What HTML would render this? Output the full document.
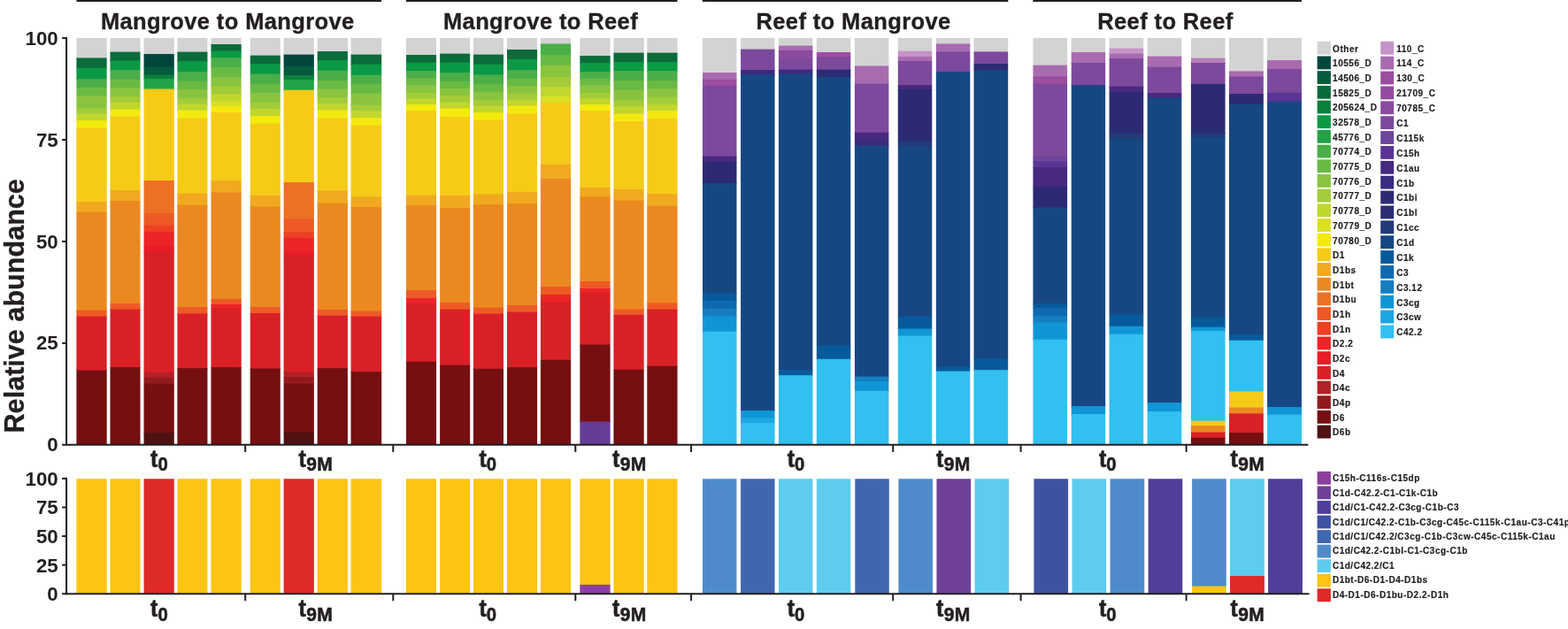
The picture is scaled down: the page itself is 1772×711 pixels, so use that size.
<!DOCTYPE html>
<html><head><meta charset="utf-8"><title>Relative abundance</title>
<style>
html,body{margin:0;padding:0;background:#fff;}
body{width:1772px;height:711px;overflow:hidden;}
svg{display:block;}
svg text{font-family:"Liberation Sans",Arial,Helvetica,sans-serif;font-weight:bold;fill:#231f20;}
</style></head><body>
<svg width="1772" height="711" viewBox="0 0 1772 711">
<rect x="0" y="0" width="1772" height="711" fill="#ffffff"/>
<rect x="86.41" y="42.90" width="34.26" height="23.55" fill="#d3d3d3"/>
<rect x="86.41" y="65.45" width="34.26" height="12.22" fill="#0b6b3a"/>
<rect x="86.41" y="76.67" width="34.26" height="13.62" fill="#0a9945"/>
<rect x="86.41" y="89.29" width="34.26" height="10.42" fill="#4aae49"/>
<rect x="86.41" y="98.70" width="34.26" height="10.42" fill="#69ba44"/>
<rect x="86.41" y="108.12" width="34.26" height="15.42" fill="#8ac43f"/>
<rect x="86.41" y="122.54" width="34.26" height="7.01" fill="#a3cc39"/>
<rect x="86.41" y="128.55" width="34.26" height="8.61" fill="#c1d72e"/>
<rect x="86.41" y="136.17" width="34.26" height="9.61" fill="#f4e90f"/>
<rect x="86.41" y="144.78" width="34.26" height="84.30" fill="#f5cb17"/>
<rect x="86.41" y="228.08" width="34.26" height="12.42" fill="#f0a920"/>
<rect x="86.41" y="239.50" width="34.26" height="112.15" fill="#eb8920"/>
<rect x="86.41" y="350.66" width="34.26" height="8.01" fill="#ee5a25"/>
<rect x="86.41" y="357.67" width="34.26" height="61.90" fill="#d92027"/>
<rect x="86.41" y="418.57" width="34.26" height="84.13" fill="#750f11"/>
<rect x="124.47" y="42.90" width="34.06" height="16.73" fill="#d3d3d3"/>
<rect x="124.47" y="58.63" width="34.06" height="10.82" fill="#0b6b3a"/>
<rect x="124.47" y="68.45" width="34.06" height="11.62" fill="#0a9945"/>
<rect x="124.47" y="79.07" width="34.06" height="11.62" fill="#4aae49"/>
<rect x="124.47" y="89.69" width="34.06" height="10.42" fill="#69ba44"/>
<rect x="124.47" y="99.10" width="34.06" height="11.02" fill="#8ac43f"/>
<rect x="124.47" y="109.12" width="34.06" height="7.61" fill="#a3cc39"/>
<rect x="124.47" y="115.73" width="34.06" height="9.01" fill="#c1d72e"/>
<rect x="124.47" y="123.74" width="34.06" height="9.01" fill="#f4e90f"/>
<rect x="124.47" y="131.76" width="34.06" height="84.30" fill="#f5cb17"/>
<rect x="124.47" y="215.06" width="34.06" height="13.02" fill="#f0a920"/>
<rect x="124.47" y="227.08" width="34.06" height="116.96" fill="#eb8920"/>
<rect x="124.47" y="343.04" width="34.06" height="7.61" fill="#ee5a25"/>
<rect x="124.47" y="349.65" width="34.06" height="66.51" fill="#d92027"/>
<rect x="124.47" y="415.16" width="34.06" height="87.54" fill="#750f11"/>
<rect x="162.54" y="42.90" width="34.26" height="19.14" fill="#d3d3d3"/>
<rect x="162.54" y="61.04" width="34.26" height="15.42" fill="#02453d"/>
<rect x="162.54" y="75.46" width="34.26" height="10.22" fill="#055a3c"/>
<rect x="162.54" y="84.68" width="34.26" height="5.41" fill="#0b7f3c"/>
<rect x="162.54" y="89.09" width="34.26" height="12.42" fill="#22a347"/>
<rect x="162.54" y="100.51" width="34.26" height="104.54" fill="#f5cb17"/>
<rect x="162.54" y="204.04" width="34.26" height="38.06" fill="#ee7024"/>
<rect x="162.54" y="241.11" width="34.26" height="14.62" fill="#ee5a25"/>
<rect x="162.54" y="254.73" width="34.26" height="8.41" fill="#ee4023"/>
<rect x="162.54" y="262.14" width="34.26" height="17.03" fill="#ec2427"/>
<rect x="162.54" y="278.17" width="34.26" height="7.01" fill="#e81c26"/>
<rect x="162.54" y="284.18" width="34.26" height="137.99" fill="#d92027"/>
<rect x="162.54" y="421.17" width="34.26" height="6.61" fill="#b32025"/>
<rect x="162.54" y="426.78" width="34.26" height="8.01" fill="#921a1d"/>
<rect x="162.54" y="433.80" width="34.26" height="56.60" fill="#750f11"/>
<rect x="162.54" y="489.40" width="34.26" height="13.30" fill="#4e1213"/>
<rect x="200.40" y="42.90" width="34.06" height="16.73" fill="#d3d3d3"/>
<rect x="200.40" y="58.63" width="34.06" height="11.42" fill="#0b6b3a"/>
<rect x="200.40" y="69.05" width="34.06" height="13.02" fill="#0a9945"/>
<rect x="200.40" y="81.07" width="34.06" height="11.62" fill="#4aae49"/>
<rect x="200.40" y="91.69" width="34.06" height="10.42" fill="#69ba44"/>
<rect x="200.40" y="101.11" width="34.06" height="11.02" fill="#8ac43f"/>
<rect x="200.40" y="111.12" width="34.06" height="7.61" fill="#a3cc39"/>
<rect x="200.40" y="117.73" width="34.06" height="8.01" fill="#c1d72e"/>
<rect x="200.40" y="124.75" width="34.06" height="9.81" fill="#f4e90f"/>
<rect x="200.40" y="133.56" width="34.06" height="86.11" fill="#f5cb17"/>
<rect x="200.40" y="218.67" width="34.06" height="14.02" fill="#f0a920"/>
<rect x="200.40" y="231.69" width="34.06" height="116.36" fill="#eb8920"/>
<rect x="200.40" y="347.05" width="34.06" height="8.41" fill="#ee5a25"/>
<rect x="200.40" y="354.46" width="34.06" height="62.70" fill="#d92027"/>
<rect x="200.40" y="416.17" width="34.06" height="86.53" fill="#750f11"/>
<rect x="238.46" y="42.90" width="34.26" height="8.12" fill="#d3d3d3"/>
<rect x="238.46" y="50.02" width="34.26" height="8.41" fill="#0b6b3a"/>
<rect x="238.46" y="57.43" width="34.26" height="8.61" fill="#0a9945"/>
<rect x="238.46" y="65.05" width="34.26" height="12.02" fill="#4aae49"/>
<rect x="238.46" y="76.06" width="34.26" height="12.02" fill="#69ba44"/>
<rect x="238.46" y="87.08" width="34.26" height="11.62" fill="#8ac43f"/>
<rect x="238.46" y="97.70" width="34.26" height="9.41" fill="#a3cc39"/>
<rect x="238.46" y="106.12" width="34.26" height="9.61" fill="#c1d72e"/>
<rect x="238.46" y="114.73" width="34.26" height="6.41" fill="#dbe024"/>
<rect x="238.46" y="120.14" width="34.26" height="8.01" fill="#f4e90f"/>
<rect x="238.46" y="127.15" width="34.26" height="77.89" fill="#f5cb17"/>
<rect x="238.46" y="204.04" width="34.26" height="14.42" fill="#f0a920"/>
<rect x="238.46" y="217.47" width="34.26" height="121.57" fill="#eb8920"/>
<rect x="238.46" y="338.03" width="34.26" height="7.01" fill="#ee5a25"/>
<rect x="238.46" y="344.04" width="34.26" height="5.41" fill="#ec2427"/>
<rect x="238.46" y="348.45" width="34.26" height="67.71" fill="#d92027"/>
<rect x="238.46" y="415.16" width="34.26" height="87.54" fill="#750f11"/>
<rect x="282.74" y="42.90" width="34.06" height="20.74" fill="#d3d3d3"/>
<rect x="282.74" y="62.64" width="34.06" height="10.42" fill="#0b6b3a"/>
<rect x="282.74" y="72.06" width="34.06" height="12.42" fill="#0a9945"/>
<rect x="282.74" y="83.48" width="34.06" height="12.22" fill="#4aae49"/>
<rect x="282.74" y="94.70" width="34.06" height="11.42" fill="#69ba44"/>
<rect x="282.74" y="105.11" width="34.06" height="11.62" fill="#8ac43f"/>
<rect x="282.74" y="115.73" width="34.06" height="8.41" fill="#a3cc39"/>
<rect x="282.74" y="123.14" width="34.06" height="9.01" fill="#c1d72e"/>
<rect x="282.74" y="131.16" width="34.06" height="9.61" fill="#f4e90f"/>
<rect x="282.74" y="139.77" width="34.06" height="82.30" fill="#f5cb17"/>
<rect x="282.74" y="221.07" width="34.06" height="13.42" fill="#f0a920"/>
<rect x="282.74" y="233.49" width="34.06" height="114.56" fill="#eb8920"/>
<rect x="282.74" y="347.05" width="34.06" height="8.01" fill="#ee5a25"/>
<rect x="282.74" y="354.06" width="34.06" height="63.51" fill="#d92027"/>
<rect x="282.74" y="416.57" width="34.06" height="86.13" fill="#750f11"/>
<rect x="320.60" y="42.90" width="34.26" height="19.74" fill="#d3d3d3"/>
<rect x="320.60" y="61.64" width="34.26" height="14.42" fill="#02453d"/>
<rect x="320.60" y="75.06" width="34.26" height="11.02" fill="#055a3c"/>
<rect x="320.60" y="85.08" width="34.26" height="6.01" fill="#0b7f3c"/>
<rect x="320.60" y="90.09" width="34.26" height="12.62" fill="#22a347"/>
<rect x="320.60" y="101.71" width="34.26" height="105.34" fill="#f5cb17"/>
<rect x="320.60" y="206.05" width="34.26" height="42.07" fill="#ee7024"/>
<rect x="320.60" y="247.12" width="34.26" height="16.03" fill="#ee5a25"/>
<rect x="320.60" y="262.14" width="34.26" height="8.01" fill="#ee4023"/>
<rect x="320.60" y="269.15" width="34.26" height="17.03" fill="#ec2427"/>
<rect x="320.60" y="285.18" width="34.26" height="5.41" fill="#e81c26"/>
<rect x="320.60" y="289.59" width="34.26" height="131.58" fill="#d92027"/>
<rect x="320.60" y="420.17" width="34.26" height="7.01" fill="#b32025"/>
<rect x="320.60" y="426.18" width="34.26" height="8.41" fill="#921a1d"/>
<rect x="320.60" y="433.60" width="34.26" height="56.10" fill="#750f11"/>
<rect x="320.60" y="488.70" width="34.26" height="14.00" fill="#4e1213"/>
<rect x="358.67" y="42.90" width="34.26" height="16.13" fill="#d3d3d3"/>
<rect x="358.67" y="58.03" width="34.26" height="11.02" fill="#0b6b3a"/>
<rect x="358.67" y="68.05" width="34.26" height="12.62" fill="#0a9945"/>
<rect x="358.67" y="79.67" width="34.26" height="12.42" fill="#4aae49"/>
<rect x="358.67" y="91.09" width="34.26" height="10.42" fill="#69ba44"/>
<rect x="358.67" y="100.51" width="34.26" height="10.62" fill="#8ac43f"/>
<rect x="358.67" y="110.12" width="34.26" height="8.01" fill="#a3cc39"/>
<rect x="358.67" y="117.13" width="34.26" height="8.41" fill="#c1d72e"/>
<rect x="358.67" y="124.55" width="34.26" height="10.02" fill="#f4e90f"/>
<rect x="358.67" y="133.56" width="34.26" height="82.90" fill="#f5cb17"/>
<rect x="358.67" y="215.46" width="34.26" height="15.22" fill="#f0a920"/>
<rect x="358.67" y="229.69" width="34.26" height="121.37" fill="#eb8920"/>
<rect x="358.67" y="350.05" width="34.26" height="7.61" fill="#ee5a25"/>
<rect x="358.67" y="356.67" width="34.26" height="60.50" fill="#d92027"/>
<rect x="358.67" y="416.17" width="34.26" height="86.53" fill="#750f11"/>
<rect x="396.53" y="42.90" width="34.66" height="19.74" fill="#d3d3d3"/>
<rect x="396.53" y="61.64" width="34.66" height="12.02" fill="#0b6b3a"/>
<rect x="396.53" y="72.66" width="34.66" height="13.02" fill="#0a9945"/>
<rect x="396.53" y="84.68" width="34.66" height="11.42" fill="#4aae49"/>
<rect x="396.53" y="95.10" width="34.66" height="11.62" fill="#69ba44"/>
<rect x="396.53" y="105.71" width="34.66" height="14.02" fill="#8ac43f"/>
<rect x="396.53" y="118.74" width="34.66" height="7.41" fill="#a3cc39"/>
<rect x="396.53" y="125.15" width="34.66" height="9.01" fill="#c1d72e"/>
<rect x="396.53" y="133.16" width="34.66" height="9.41" fill="#f4e90f"/>
<rect x="396.53" y="141.58" width="34.66" height="81.90" fill="#f5cb17"/>
<rect x="396.53" y="222.48" width="34.66" height="12.62" fill="#f0a920"/>
<rect x="396.53" y="234.09" width="34.66" height="118.56" fill="#eb8920"/>
<rect x="396.53" y="351.66" width="34.66" height="7.01" fill="#ee5a25"/>
<rect x="396.53" y="357.67" width="34.66" height="63.51" fill="#d92027"/>
<rect x="396.53" y="420.17" width="34.66" height="82.53" fill="#750f11"/>
<rect x="459.03" y="42.90" width="34.06" height="20.14" fill="#d3d3d3"/>
<rect x="459.03" y="62.04" width="34.06" height="9.61" fill="#0b6b3a"/>
<rect x="459.03" y="70.66" width="34.06" height="10.42" fill="#0a9945"/>
<rect x="459.03" y="80.07" width="34.06" height="9.01" fill="#4aae49"/>
<rect x="459.03" y="88.08" width="34.06" height="9.01" fill="#69ba44"/>
<rect x="459.03" y="96.10" width="34.06" height="10.02" fill="#8ac43f"/>
<rect x="459.03" y="105.11" width="34.06" height="7.61" fill="#a3cc39"/>
<rect x="459.03" y="111.72" width="34.06" height="7.41" fill="#c1d72e"/>
<rect x="459.03" y="118.14" width="34.06" height="8.01" fill="#f4e90f"/>
<rect x="459.03" y="125.15" width="34.06" height="96.52" fill="#f5cb17"/>
<rect x="459.03" y="220.67" width="34.06" height="12.42" fill="#f0a920"/>
<rect x="459.03" y="232.09" width="34.06" height="96.94" fill="#eb8920"/>
<rect x="459.03" y="328.03" width="34.06" height="10.02" fill="#ee5a25"/>
<rect x="459.03" y="337.05" width="34.06" height="7.01" fill="#ec2427"/>
<rect x="459.03" y="343.06" width="34.06" height="66.71" fill="#d92027"/>
<rect x="459.03" y="408.77" width="34.06" height="93.93" fill="#750f11"/>
<rect x="497.10" y="42.90" width="34.06" height="18.74" fill="#d3d3d3"/>
<rect x="497.10" y="60.64" width="34.06" height="11.02" fill="#0b6b3a"/>
<rect x="497.10" y="70.66" width="34.06" height="12.42" fill="#0a9945"/>
<rect x="497.10" y="82.07" width="34.06" height="10.62" fill="#4aae49"/>
<rect x="497.10" y="91.69" width="34.06" height="9.41" fill="#69ba44"/>
<rect x="497.10" y="100.10" width="34.06" height="9.01" fill="#8ac43f"/>
<rect x="497.10" y="108.12" width="34.06" height="8.61" fill="#a3cc39"/>
<rect x="497.10" y="115.73" width="34.06" height="7.81" fill="#c1d72e"/>
<rect x="497.10" y="122.54" width="34.06" height="10.62" fill="#f4e90f"/>
<rect x="497.10" y="132.16" width="34.06" height="89.91" fill="#f5cb17"/>
<rect x="497.10" y="221.07" width="34.06" height="15.02" fill="#f0a920"/>
<rect x="497.10" y="235.10" width="34.06" height="107.96" fill="#eb8920"/>
<rect x="497.10" y="342.05" width="34.06" height="8.61" fill="#ee5a25"/>
<rect x="497.10" y="349.67" width="34.06" height="64.11" fill="#d92027"/>
<rect x="497.10" y="412.77" width="34.06" height="89.93" fill="#750f11"/>
<rect x="534.96" y="42.90" width="34.06" height="19.74" fill="#d3d3d3"/>
<rect x="534.96" y="61.64" width="34.06" height="12.02" fill="#0b6b3a"/>
<rect x="534.96" y="72.66" width="34.06" height="12.82" fill="#0a9945"/>
<rect x="534.96" y="84.48" width="34.06" height="11.22" fill="#4aae49"/>
<rect x="534.96" y="94.70" width="34.06" height="10.42" fill="#69ba44"/>
<rect x="534.96" y="104.11" width="34.06" height="10.02" fill="#8ac43f"/>
<rect x="534.96" y="113.13" width="34.06" height="7.61" fill="#a3cc39"/>
<rect x="534.96" y="119.74" width="34.06" height="8.41" fill="#c1d72e"/>
<rect x="534.96" y="127.15" width="34.06" height="9.61" fill="#f4e90f"/>
<rect x="534.96" y="135.77" width="34.06" height="84.70" fill="#f5cb17"/>
<rect x="534.96" y="219.47" width="34.06" height="12.62" fill="#f0a920"/>
<rect x="534.96" y="231.09" width="34.06" height="117.57" fill="#eb8920"/>
<rect x="534.96" y="347.66" width="34.06" height="8.01" fill="#ee5a25"/>
<rect x="534.96" y="354.68" width="34.06" height="63.10" fill="#d92027"/>
<rect x="534.96" y="416.78" width="34.06" height="85.92" fill="#750f11"/>
<rect x="573.02" y="42.90" width="34.06" height="14.13" fill="#d3d3d3"/>
<rect x="573.02" y="56.03" width="34.06" height="12.02" fill="#0b6b3a"/>
<rect x="573.02" y="67.05" width="34.06" height="13.02" fill="#0a9945"/>
<rect x="573.02" y="79.07" width="34.06" height="11.02" fill="#4aae49"/>
<rect x="573.02" y="89.09" width="34.06" height="9.01" fill="#69ba44"/>
<rect x="573.02" y="97.10" width="34.06" height="9.61" fill="#8ac43f"/>
<rect x="573.02" y="105.71" width="34.06" height="8.01" fill="#a3cc39"/>
<rect x="573.02" y="112.73" width="34.06" height="7.81" fill="#c1d72e"/>
<rect x="573.02" y="119.54" width="34.06" height="10.02" fill="#f4e90f"/>
<rect x="573.02" y="128.55" width="34.06" height="89.51" fill="#f5cb17"/>
<rect x="573.02" y="217.07" width="34.06" height="14.02" fill="#f0a920"/>
<rect x="573.02" y="230.09" width="34.06" height="115.97" fill="#eb8920"/>
<rect x="573.02" y="345.06" width="34.06" height="8.61" fill="#ee5a25"/>
<rect x="573.02" y="352.67" width="34.06" height="63.51" fill="#d92027"/>
<rect x="573.02" y="415.18" width="34.06" height="87.52" fill="#750f11"/>
<rect x="610.89" y="42.90" width="34.26" height="7.52" fill="#d3d3d3"/>
<rect x="610.89" y="49.42" width="34.26" height="13.62" fill="#4aae49"/>
<rect x="610.89" y="62.04" width="34.26" height="12.62" fill="#69ba44"/>
<rect x="610.89" y="73.66" width="34.26" height="14.42" fill="#8ac43f"/>
<rect x="610.89" y="87.08" width="34.26" height="12.02" fill="#a3cc39"/>
<rect x="610.89" y="98.10" width="34.26" height="11.62" fill="#c1d72e"/>
<rect x="610.89" y="108.72" width="34.26" height="7.81" fill="#dbe024"/>
<rect x="610.89" y="115.53" width="34.26" height="71.48" fill="#f5cb17"/>
<rect x="610.89" y="186.01" width="34.26" height="17.03" fill="#f0a920"/>
<rect x="610.89" y="202.04" width="34.26" height="122.98" fill="#eb8920"/>
<rect x="610.89" y="324.02" width="34.26" height="10.02" fill="#ee5a25"/>
<rect x="610.89" y="333.04" width="34.26" height="9.41" fill="#ec2427"/>
<rect x="610.89" y="341.45" width="34.26" height="66.31" fill="#d92027"/>
<rect x="610.89" y="406.76" width="34.26" height="95.94" fill="#750f11"/>
<rect x="655.36" y="42.90" width="34.26" height="21.14" fill="#d3d3d3"/>
<rect x="655.36" y="63.04" width="34.26" height="9.01" fill="#0b6b3a"/>
<rect x="655.36" y="71.06" width="34.26" height="11.02" fill="#0a9945"/>
<rect x="655.36" y="81.07" width="34.26" height="8.61" fill="#4aae49"/>
<rect x="655.36" y="88.69" width="34.26" height="8.41" fill="#69ba44"/>
<rect x="655.36" y="96.10" width="34.26" height="10.02" fill="#8ac43f"/>
<rect x="655.36" y="105.11" width="34.26" height="7.01" fill="#a3cc39"/>
<rect x="655.36" y="111.12" width="34.26" height="8.01" fill="#c1d72e"/>
<rect x="655.36" y="118.14" width="34.26" height="8.01" fill="#f4e90f"/>
<rect x="655.36" y="125.15" width="34.26" height="87.91" fill="#f5cb17"/>
<rect x="655.36" y="212.06" width="34.26" height="11.42" fill="#f0a920"/>
<rect x="655.36" y="222.48" width="34.26" height="96.54" fill="#eb8920"/>
<rect x="655.36" y="318.01" width="34.26" height="9.01" fill="#ee5a25"/>
<rect x="655.36" y="326.03" width="34.26" height="5.61" fill="#ec2427"/>
<rect x="655.36" y="330.63" width="34.26" height="59.90" fill="#d92027"/>
<rect x="655.36" y="389.53" width="34.26" height="88.07" fill="#750f11"/>
<rect x="655.36" y="476.60" width="34.26" height="26.10" fill="#633d98"/>
<rect x="693.43" y="42.90" width="34.26" height="17.74" fill="#d3d3d3"/>
<rect x="693.43" y="59.64" width="34.26" height="11.42" fill="#0b6b3a"/>
<rect x="693.43" y="70.05" width="34.26" height="11.02" fill="#0a9945"/>
<rect x="693.43" y="80.07" width="34.26" height="12.02" fill="#4aae49"/>
<rect x="693.43" y="91.09" width="34.26" height="12.02" fill="#69ba44"/>
<rect x="693.43" y="102.11" width="34.26" height="12.02" fill="#8ac43f"/>
<rect x="693.43" y="113.13" width="34.26" height="8.01" fill="#a3cc39"/>
<rect x="693.43" y="120.14" width="34.26" height="9.41" fill="#c1d72e"/>
<rect x="693.43" y="128.55" width="34.26" height="9.61" fill="#f4e90f"/>
<rect x="693.43" y="137.17" width="34.26" height="77.89" fill="#f5cb17"/>
<rect x="693.43" y="214.06" width="34.26" height="13.62" fill="#f0a920"/>
<rect x="693.43" y="226.68" width="34.26" height="123.78" fill="#eb8920"/>
<rect x="693.43" y="349.47" width="34.26" height="7.61" fill="#ee5a25"/>
<rect x="693.43" y="356.08" width="34.26" height="62.70" fill="#d92027"/>
<rect x="693.43" y="417.78" width="34.26" height="84.92" fill="#750f11"/>
<rect x="731.29" y="42.90" width="34.26" height="17.74" fill="#d3d3d3"/>
<rect x="731.29" y="59.64" width="34.26" height="11.42" fill="#0b6b3a"/>
<rect x="731.29" y="70.05" width="34.26" height="11.02" fill="#0a9945"/>
<rect x="731.29" y="80.07" width="34.26" height="12.02" fill="#4aae49"/>
<rect x="731.29" y="91.09" width="34.26" height="10.02" fill="#69ba44"/>
<rect x="731.29" y="100.10" width="34.26" height="10.62" fill="#8ac43f"/>
<rect x="731.29" y="109.72" width="34.26" height="9.01" fill="#a3cc39"/>
<rect x="731.29" y="117.73" width="34.26" height="8.41" fill="#c1d72e"/>
<rect x="731.29" y="125.15" width="34.26" height="10.02" fill="#f4e90f"/>
<rect x="731.29" y="134.16" width="34.26" height="85.91" fill="#f5cb17"/>
<rect x="731.29" y="219.07" width="34.26" height="14.62" fill="#f0a920"/>
<rect x="731.29" y="232.69" width="34.26" height="110.76" fill="#eb8920"/>
<rect x="731.29" y="342.45" width="34.26" height="8.21" fill="#ee5a25"/>
<rect x="731.29" y="349.67" width="34.26" height="65.11" fill="#d92027"/>
<rect x="731.29" y="413.78" width="34.26" height="88.92" fill="#750f11"/>
<rect x="794.01" y="42.90" width="38.47" height="40.17" fill="#d3d3d3"/>
<rect x="794.01" y="82.07" width="38.47" height="8.61" fill="#a96bb0"/>
<rect x="794.01" y="89.69" width="38.47" height="8.41" fill="#9b4d9f"/>
<rect x="794.01" y="97.10" width="38.47" height="80.51" fill="#7c499d"/>
<rect x="794.01" y="176.61" width="38.47" height="7.41" fill="#47297f"/>
<rect x="794.01" y="183.02" width="38.47" height="25.04" fill="#2c2a74"/>
<rect x="794.01" y="207.06" width="38.47" height="124.97" fill="#174783"/>
<rect x="794.01" y="331.04" width="38.47" height="10.02" fill="#065a9a"/>
<rect x="794.01" y="340.05" width="38.47" height="9.61" fill="#0e69b0"/>
<rect x="794.01" y="348.67" width="38.47" height="9.81" fill="#157dc1"/>
<rect x="794.01" y="357.48" width="38.47" height="18.23" fill="#1096d6"/>
<rect x="794.01" y="374.71" width="38.47" height="127.99" fill="#31c0ef"/>
<rect x="837.08" y="42.90" width="38.47" height="13.73" fill="#d3d3d3"/>
<rect x="837.08" y="55.63" width="38.47" height="24.44" fill="#7c499d"/>
<rect x="837.08" y="79.07" width="38.47" height="6.01" fill="#3a2a80"/>
<rect x="837.08" y="84.08" width="38.47" height="380.98" fill="#174783"/>
<rect x="837.08" y="464.06" width="38.47" height="9.01" fill="#1096d6"/>
<rect x="837.08" y="472.07" width="38.47" height="7.01" fill="#1aa7e4"/>
<rect x="837.08" y="478.08" width="38.47" height="24.62" fill="#31c0ef"/>
<rect x="879.95" y="42.90" width="38.47" height="9.72" fill="#d3d3d3"/>
<rect x="879.95" y="51.62" width="38.47" height="6.41" fill="#a96bb0"/>
<rect x="879.95" y="57.03" width="38.47" height="11.02" fill="#8a4a9f"/>
<rect x="879.95" y="67.05" width="38.47" height="12.62" fill="#7c499d"/>
<rect x="879.95" y="78.67" width="38.47" height="5.81" fill="#3a2a80"/>
<rect x="879.95" y="83.48" width="38.47" height="335.71" fill="#174783"/>
<rect x="879.95" y="418.18" width="38.47" height="7.01" fill="#065a9a"/>
<rect x="879.95" y="424.19" width="38.47" height="78.51" fill="#31c0ef"/>
<rect x="922.82" y="42.90" width="38.47" height="17.14" fill="#d3d3d3"/>
<rect x="922.82" y="59.04" width="38.47" height="6.41" fill="#9b4d9f"/>
<rect x="922.82" y="64.44" width="38.47" height="15.22" fill="#7c499d"/>
<rect x="922.82" y="78.67" width="38.47" height="9.41" fill="#2c2a74"/>
<rect x="922.82" y="87.08" width="38.47" height="304.45" fill="#174783"/>
<rect x="922.82" y="390.54" width="38.47" height="16.23" fill="#065a9a"/>
<rect x="922.82" y="405.76" width="38.47" height="96.94" fill="#31c0ef"/>
<rect x="965.90" y="42.90" width="38.47" height="32.56" fill="#d3d3d3"/>
<rect x="965.90" y="74.46" width="38.47" height="21.03" fill="#a96bb0"/>
<rect x="965.90" y="94.50" width="38.47" height="56.29" fill="#7c499d"/>
<rect x="965.90" y="149.79" width="38.47" height="10.02" fill="#47297f"/>
<rect x="965.90" y="158.80" width="38.47" height="6.41" fill="#3a2a80"/>
<rect x="965.90" y="164.21" width="38.47" height="262.38" fill="#174783"/>
<rect x="965.90" y="425.60" width="38.47" height="6.21" fill="#157dc1"/>
<rect x="965.90" y="430.80" width="38.47" height="12.02" fill="#1096d6"/>
<rect x="965.90" y="441.82" width="38.47" height="60.88" fill="#31c0ef"/>
<rect x="1014.78" y="42.90" width="38.47" height="15.73" fill="#d3d3d3"/>
<rect x="1014.78" y="57.63" width="38.47" height="7.41" fill="#c594c7"/>
<rect x="1014.78" y="64.04" width="38.47" height="6.01" fill="#a96bb0"/>
<rect x="1014.78" y="69.05" width="38.47" height="28.05" fill="#7c499d"/>
<rect x="1014.78" y="96.10" width="38.47" height="6.01" fill="#47297f"/>
<rect x="1014.78" y="101.11" width="38.47" height="59.10" fill="#2c2a74"/>
<rect x="1014.78" y="159.20" width="38.47" height="6.61" fill="#213a78"/>
<rect x="1014.78" y="164.81" width="38.47" height="193.87" fill="#174783"/>
<rect x="1014.78" y="357.68" width="38.47" height="14.82" fill="#065a9a"/>
<rect x="1014.78" y="371.50" width="38.47" height="9.01" fill="#1096d6"/>
<rect x="1014.78" y="379.52" width="38.47" height="123.18" fill="#31c0ef"/>
<rect x="1057.85" y="42.90" width="38.47" height="7.52" fill="#d3d3d3"/>
<rect x="1057.85" y="49.42" width="38.47" height="10.02" fill="#a96bb0"/>
<rect x="1057.85" y="58.43" width="38.47" height="23.64" fill="#7c499d"/>
<rect x="1057.85" y="81.07" width="38.47" height="334.10" fill="#174783"/>
<rect x="1057.85" y="414.18" width="38.47" height="6.41" fill="#065a9a"/>
<rect x="1057.85" y="419.59" width="38.47" height="83.11" fill="#31c0ef"/>
<rect x="1100.52" y="42.90" width="38.67" height="16.53" fill="#d3d3d3"/>
<rect x="1100.52" y="58.43" width="38.67" height="14.62" fill="#7c499d"/>
<rect x="1100.52" y="72.06" width="38.67" height="8.01" fill="#2c2a74"/>
<rect x="1100.52" y="79.07" width="38.67" height="327.09" fill="#174783"/>
<rect x="1100.52" y="405.16" width="38.67" height="14.02" fill="#065a9a"/>
<rect x="1100.52" y="418.18" width="38.67" height="84.52" fill="#31c0ef"/>
<rect x="1167.43" y="42.90" width="38.67" height="31.76" fill="#d3d3d3"/>
<rect x="1167.43" y="73.66" width="38.67" height="13.82" fill="#a96bb0"/>
<rect x="1167.43" y="86.48" width="38.67" height="9.21" fill="#9b4d9f"/>
<rect x="1167.43" y="94.70" width="38.67" height="83.32" fill="#7c499d"/>
<rect x="1167.43" y="177.01" width="38.67" height="6.41" fill="#6c469b"/>
<rect x="1167.43" y="182.42" width="38.67" height="7.61" fill="#5a3595"/>
<rect x="1167.43" y="189.03" width="38.67" height="23.04" fill="#47297f"/>
<rect x="1167.43" y="211.07" width="38.67" height="24.44" fill="#2c2a74"/>
<rect x="1167.43" y="234.51" width="38.67" height="109.55" fill="#174783"/>
<rect x="1167.43" y="343.06" width="38.67" height="6.01" fill="#065a9a"/>
<rect x="1167.43" y="348.06" width="38.67" height="10.02" fill="#0e69b0"/>
<rect x="1167.43" y="357.08" width="38.67" height="8.41" fill="#157dc1"/>
<rect x="1167.43" y="364.49" width="38.67" height="20.23" fill="#1096d6"/>
<rect x="1167.43" y="383.72" width="38.67" height="118.98" fill="#31c0ef"/>
<rect x="1210.70" y="42.90" width="38.47" height="17.14" fill="#d3d3d3"/>
<rect x="1210.70" y="59.04" width="38.47" height="13.02" fill="#a96bb0"/>
<rect x="1210.70" y="71.06" width="38.47" height="26.04" fill="#7c499d"/>
<rect x="1210.70" y="96.10" width="38.47" height="363.95" fill="#174783"/>
<rect x="1210.70" y="459.05" width="38.47" height="10.02" fill="#1096d6"/>
<rect x="1210.70" y="468.06" width="38.47" height="34.64" fill="#31c0ef"/>
<rect x="1253.58" y="42.90" width="38.67" height="12.73" fill="#d3d3d3"/>
<rect x="1253.58" y="54.63" width="38.67" height="7.01" fill="#c594c7"/>
<rect x="1253.58" y="60.64" width="38.67" height="6.41" fill="#a96bb0"/>
<rect x="1253.58" y="66.05" width="38.67" height="32.65" fill="#7c499d"/>
<rect x="1253.58" y="97.70" width="38.67" height="7.81" fill="#47297f"/>
<rect x="1253.58" y="104.51" width="38.67" height="46.68" fill="#2c2a74"/>
<rect x="1253.58" y="150.19" width="38.67" height="8.01" fill="#213a78"/>
<rect x="1253.58" y="157.20" width="38.67" height="198.87" fill="#174783"/>
<rect x="1253.58" y="355.08" width="38.67" height="14.62" fill="#065a9a"/>
<rect x="1253.58" y="368.70" width="38.67" height="10.02" fill="#1096d6"/>
<rect x="1253.58" y="377.71" width="38.67" height="124.99" fill="#31c0ef"/>
<rect x="1296.65" y="42.90" width="38.67" height="21.74" fill="#d3d3d3"/>
<rect x="1296.65" y="63.64" width="38.67" height="13.02" fill="#a96bb0"/>
<rect x="1296.65" y="75.66" width="38.67" height="30.45" fill="#7c499d"/>
<rect x="1296.65" y="105.11" width="38.67" height="6.01" fill="#47297f"/>
<rect x="1296.65" y="110.12" width="38.67" height="345.92" fill="#174783"/>
<rect x="1296.65" y="455.04" width="38.67" height="11.02" fill="#1096d6"/>
<rect x="1296.65" y="465.06" width="38.67" height="37.64" fill="#31c0ef"/>
<rect x="1345.93" y="42.90" width="38.67" height="23.75" fill="#d3d3d3"/>
<rect x="1345.93" y="65.65" width="38.67" height="6.41" fill="#b57fbc"/>
<rect x="1345.93" y="71.06" width="38.67" height="25.04" fill="#7c499d"/>
<rect x="1345.93" y="95.10" width="38.67" height="56.09" fill="#2c2a74"/>
<rect x="1345.93" y="150.19" width="38.67" height="6.01" fill="#213a78"/>
<rect x="1345.93" y="155.20" width="38.67" height="204.48" fill="#174783"/>
<rect x="1345.93" y="358.68" width="38.67" height="12.02" fill="#065a9a"/>
<rect x="1345.93" y="369.70" width="38.67" height="5.41" fill="#1096d6"/>
<rect x="1345.93" y="374.11" width="38.67" height="102.57" fill="#31c0ef"/>
<rect x="1345.93" y="475.68" width="38.67" height="6.41" fill="#f5cb17"/>
<rect x="1345.93" y="481.09" width="38.67" height="8.41" fill="#eb8920"/>
<rect x="1345.93" y="488.50" width="38.67" height="7.21" fill="#d92027"/>
<rect x="1345.93" y="494.71" width="38.67" height="7.99" fill="#750f11"/>
<rect x="1389.00" y="42.90" width="38.87" height="38.57" fill="#d3d3d3"/>
<rect x="1389.00" y="80.47" width="38.87" height="7.01" fill="#a96bb0"/>
<rect x="1389.00" y="86.48" width="38.87" height="20.63" fill="#7c499d"/>
<rect x="1389.00" y="106.12" width="38.87" height="12.62" fill="#2c2a74"/>
<rect x="1389.00" y="117.73" width="38.87" height="261.38" fill="#174783"/>
<rect x="1389.00" y="378.12" width="38.87" height="7.61" fill="#065a9a"/>
<rect x="1389.00" y="384.73" width="38.87" height="58.69" fill="#31c0ef"/>
<rect x="1389.00" y="442.42" width="38.87" height="19.23" fill="#f5cb17"/>
<rect x="1389.00" y="460.65" width="38.87" height="7.81" fill="#eb8920"/>
<rect x="1389.00" y="467.46" width="38.87" height="22.64" fill="#d92027"/>
<rect x="1389.00" y="489.10" width="38.87" height="13.60" fill="#750f11"/>
<rect x="1432.08" y="42.90" width="38.87" height="26.15" fill="#d3d3d3"/>
<rect x="1432.08" y="68.05" width="38.87" height="11.02" fill="#a96bb0"/>
<rect x="1432.08" y="78.07" width="38.87" height="27.65" fill="#7c499d"/>
<rect x="1432.08" y="104.71" width="38.87" height="11.02" fill="#5a3595"/>
<rect x="1432.08" y="114.73" width="38.87" height="346.32" fill="#174783"/>
<rect x="1432.08" y="460.05" width="38.87" height="9.61" fill="#1096d6"/>
<rect x="1432.08" y="468.67" width="38.87" height="34.03" fill="#31c0ef"/>
<rect x="86.41" y="541.25" width="34.26" height="129.95" fill="#fdc414"/>
<rect x="124.47" y="541.25" width="34.06" height="129.95" fill="#fdc414"/>
<rect x="162.54" y="541.25" width="34.26" height="129.95" fill="#de2a28"/>
<rect x="200.40" y="541.25" width="34.06" height="129.95" fill="#fdc414"/>
<rect x="238.46" y="541.25" width="34.26" height="129.95" fill="#fdc414"/>
<rect x="282.74" y="541.25" width="34.06" height="129.95" fill="#fdc414"/>
<rect x="320.60" y="541.25" width="34.26" height="129.95" fill="#de2a28"/>
<rect x="358.67" y="541.25" width="34.26" height="129.95" fill="#fdc414"/>
<rect x="396.53" y="541.25" width="34.66" height="129.95" fill="#fdc414"/>
<rect x="459.03" y="541.25" width="34.06" height="129.95" fill="#fdc414"/>
<rect x="497.10" y="541.25" width="34.06" height="129.95" fill="#fdc414"/>
<rect x="534.96" y="541.25" width="34.06" height="129.95" fill="#fdc414"/>
<rect x="573.02" y="541.25" width="34.06" height="129.95" fill="#fdc414"/>
<rect x="610.89" y="541.25" width="34.26" height="129.95" fill="#fdc414"/>
<rect x="655.36" y="541.25" width="34.26" height="120.65" fill="#fdc414"/>
<rect x="655.36" y="660.90" width="34.26" height="10.30" fill="#8c3f9c"/>
<rect x="693.43" y="541.25" width="34.26" height="129.95" fill="#fdc414"/>
<rect x="731.29" y="541.25" width="34.26" height="129.95" fill="#fdc414"/>
<rect x="794.01" y="541.25" width="38.47" height="129.95" fill="#4f8bca"/>
<rect x="837.08" y="541.25" width="38.47" height="129.95" fill="#4066b0"/>
<rect x="879.95" y="541.25" width="38.47" height="129.95" fill="#5dccf0"/>
<rect x="922.82" y="541.25" width="38.47" height="129.95" fill="#5dccf0"/>
<rect x="966.30" y="541.25" width="38.47" height="129.95" fill="#4066b0"/>
<rect x="1015.38" y="541.25" width="38.67" height="129.95" fill="#4f8bca"/>
<rect x="1058.45" y="541.25" width="38.67" height="129.95" fill="#6f4098"/>
<rect x="1101.53" y="541.25" width="38.67" height="129.95" fill="#5dccf0"/>
<rect x="1168.43" y="541.25" width="38.67" height="129.95" fill="#3f52a2"/>
<rect x="1211.50" y="541.25" width="38.67" height="129.95" fill="#5dccf0"/>
<rect x="1254.58" y="541.25" width="38.67" height="129.95" fill="#4f8bca"/>
<rect x="1297.65" y="541.25" width="38.67" height="129.95" fill="#503e98"/>
<rect x="1347.13" y="541.25" width="38.67" height="122.25" fill="#4f8bca"/>
<rect x="1347.13" y="662.50" width="38.67" height="8.70" fill="#fdc414"/>
<rect x="1390.01" y="541.25" width="38.87" height="110.75" fill="#5dccf0"/>
<rect x="1390.01" y="651.00" width="38.87" height="20.20" fill="#de2a28"/>
<rect x="1433.08" y="541.25" width="38.87" height="129.95" fill="#503e98"/>
<rect x="86.50" y="0" width="344.50" height="2.0" fill="#231f20"/>
<rect x="459.00" y="0" width="306.50" height="2.0" fill="#231f20"/>
<rect x="793.80" y="0" width="345.50" height="2.0" fill="#231f20"/>
<rect x="1167.40" y="0" width="303.60" height="2.0" fill="#231f20"/>
<line x1="75.05" y1="42.07" x2="75.05" y2="503.80" stroke="#231f20" stroke-width="2.0"/>
<line x1="75.05" y1="502.80" x2="1478.40" y2="502.80" stroke="#231f20" stroke-width="2.0"/>
<line x1="70.10" y1="43.07" x2="75.05" y2="43.07" stroke="#231f20" stroke-width="2.0"/>
<line x1="70.10" y1="158.00" x2="75.05" y2="158.00" stroke="#231f20" stroke-width="2.0"/>
<line x1="70.10" y1="272.94" x2="75.05" y2="272.94" stroke="#231f20" stroke-width="2.0"/>
<line x1="70.10" y1="387.87" x2="75.05" y2="387.87" stroke="#231f20" stroke-width="2.0"/>
<line x1="70.10" y1="502.80" x2="75.05" y2="502.80" stroke="#231f20" stroke-width="2.0"/>
<line x1="277.20" y1="502.80" x2="277.20" y2="511.00" stroke="#231f20" stroke-width="2.0"/>
<line x1="444.30" y1="502.80" x2="444.30" y2="511.00" stroke="#231f20" stroke-width="2.0"/>
<line x1="650.30" y1="502.80" x2="650.30" y2="511.00" stroke="#231f20" stroke-width="2.0"/>
<line x1="781.10" y1="502.80" x2="781.10" y2="511.00" stroke="#231f20" stroke-width="2.0"/>
<line x1="1009.20" y1="502.80" x2="1009.20" y2="511.00" stroke="#231f20" stroke-width="2.0"/>
<line x1="1153.60" y1="502.80" x2="1153.60" y2="511.00" stroke="#231f20" stroke-width="2.0"/>
<line x1="1340.60" y1="502.80" x2="1340.60" y2="511.00" stroke="#231f20" stroke-width="2.0"/>
<line x1="75.05" y1="539.90" x2="75.05" y2="672.20" stroke="#231f20" stroke-width="2.0"/>
<line x1="75.05" y1="671.20" x2="1479.60" y2="671.20" stroke="#231f20" stroke-width="2.0"/>
<line x1="70.10" y1="540.90" x2="75.05" y2="540.90" stroke="#231f20" stroke-width="2.0"/>
<line x1="70.10" y1="573.48" x2="75.05" y2="573.48" stroke="#231f20" stroke-width="2.0"/>
<line x1="70.10" y1="606.05" x2="75.05" y2="606.05" stroke="#231f20" stroke-width="2.0"/>
<line x1="70.10" y1="638.62" x2="75.05" y2="638.62" stroke="#231f20" stroke-width="2.0"/>
<line x1="70.10" y1="671.20" x2="75.05" y2="671.20" stroke="#231f20" stroke-width="2.0"/>
<line x1="277.20" y1="671.20" x2="277.20" y2="679.20" stroke="#231f20" stroke-width="2.0"/>
<line x1="444.30" y1="671.20" x2="444.30" y2="679.20" stroke="#231f20" stroke-width="2.0"/>
<line x1="650.30" y1="671.20" x2="650.30" y2="679.20" stroke="#231f20" stroke-width="2.0"/>
<line x1="781.10" y1="671.20" x2="781.10" y2="679.20" stroke="#231f20" stroke-width="2.0"/>
<line x1="1009.20" y1="671.20" x2="1009.20" y2="679.20" stroke="#231f20" stroke-width="2.0"/>
<line x1="1153.60" y1="671.20" x2="1153.60" y2="679.20" stroke="#231f20" stroke-width="2.0"/>
<line x1="1340.60" y1="671.20" x2="1340.60" y2="679.20" stroke="#231f20" stroke-width="2.0"/>
<text x="65.70" y="51.30" font-size="22.3" text-anchor="end" >100</text>
<text x="65.70" y="165.90" font-size="22.3" text-anchor="end" >75</text>
<text x="65.70" y="280.50" font-size="22.3" text-anchor="end" >50</text>
<text x="65.70" y="395.10" font-size="22.3" text-anchor="end" >25</text>
<text x="65.70" y="509.70" font-size="22.3" text-anchor="end" >0</text>
<text x="65.70" y="548.90" font-size="22.3" text-anchor="end" >100</text>
<text x="65.70" y="581.48" font-size="22.3" text-anchor="end" >75</text>
<text x="65.70" y="614.05" font-size="22.3" text-anchor="end" >50</text>
<text x="65.70" y="646.62" font-size="22.3" text-anchor="end" >25</text>
<text x="65.70" y="679.20" font-size="22.3" text-anchor="end" >0</text>
<text x="257.25" y="33.1" font-size="25.5" text-anchor="middle" stroke="#231f20" stroke-width="0.35" letter-spacing="0.38">Mangrove to Mangrove</text>
<text x="611.00" y="33.1" font-size="25.5" text-anchor="middle" stroke="#231f20" stroke-width="0.35" letter-spacing="0.38">Mangrove to Reef</text>
<text x="964.50" y="33.1" font-size="25.5" text-anchor="middle" stroke="#231f20" stroke-width="0.35" letter-spacing="0.38">Reef to Mangrove</text>
<text x="1316.95" y="33.1" font-size="25.5" text-anchor="middle" stroke="#231f20" stroke-width="0.35" letter-spacing="0.38">Reef to Reef</text>
<text transform="translate(26.5,345.8) rotate(-90)" font-size="30.6" text-anchor="middle" stroke="#231f20" stroke-width="0.3">Relative abundance</text>
<text transform="translate(170.10,527.90) scale(0.9,1)" font-size="27.7" stroke="#231f20" stroke-width="0.7">t</text>
<text transform="translate(178.45,532.40) scale(0.95,1)" font-size="21.4" letter-spacing="0" stroke="#231f20" stroke-width="0.55">0</text>
<text transform="translate(541.50,527.90) scale(0.9,1)" font-size="27.7" stroke="#231f20" stroke-width="0.7">t</text>
<text transform="translate(549.85,532.40) scale(0.95,1)" font-size="21.4" letter-spacing="0" stroke="#231f20" stroke-width="0.55">0</text>
<text transform="translate(889.70,527.90) scale(0.9,1)" font-size="27.7" stroke="#231f20" stroke-width="0.7">t</text>
<text transform="translate(898.05,532.40) scale(0.95,1)" font-size="21.4" letter-spacing="0" stroke="#231f20" stroke-width="0.55">0</text>
<text transform="translate(1242.00,527.90) scale(0.9,1)" font-size="27.7" stroke="#231f20" stroke-width="0.7">t</text>
<text transform="translate(1250.35,532.40) scale(0.95,1)" font-size="21.4" letter-spacing="0" stroke="#231f20" stroke-width="0.55">0</text>
<text transform="translate(337.50,527.90) scale(0.9,1)" font-size="27.7" stroke="#231f20" stroke-width="0.7">t</text>
<text transform="translate(346.30,532.40) scale(0.985,1)" font-size="21.4" letter-spacing="0.3" stroke="#231f20" stroke-width="0.55">9M</text>
<text transform="translate(692.00,527.90) scale(0.9,1)" font-size="27.7" stroke="#231f20" stroke-width="0.7">t</text>
<text transform="translate(700.80,532.40) scale(0.985,1)" font-size="21.4" letter-spacing="0.3" stroke="#231f20" stroke-width="0.55">9M</text>
<text transform="translate(1058.00,527.90) scale(0.9,1)" font-size="27.7" stroke="#231f20" stroke-width="0.7">t</text>
<text transform="translate(1066.80,532.40) scale(0.985,1)" font-size="21.4" letter-spacing="0.3" stroke="#231f20" stroke-width="0.55">9M</text>
<text transform="translate(1390.40,527.90) scale(0.9,1)" font-size="27.7" stroke="#231f20" stroke-width="0.7">t</text>
<text transform="translate(1399.20,532.40) scale(0.985,1)" font-size="21.4" letter-spacing="0.3" stroke="#231f20" stroke-width="0.55">9M</text>
<text transform="translate(170.10,697.30) scale(0.9,1)" font-size="27.7" stroke="#231f20" stroke-width="0.7">t</text>
<text transform="translate(178.45,701.80) scale(0.95,1)" font-size="21.4" letter-spacing="0" stroke="#231f20" stroke-width="0.55">0</text>
<text transform="translate(541.50,697.30) scale(0.9,1)" font-size="27.7" stroke="#231f20" stroke-width="0.7">t</text>
<text transform="translate(549.85,701.80) scale(0.95,1)" font-size="21.4" letter-spacing="0" stroke="#231f20" stroke-width="0.55">0</text>
<text transform="translate(889.70,697.30) scale(0.9,1)" font-size="27.7" stroke="#231f20" stroke-width="0.7">t</text>
<text transform="translate(898.05,701.80) scale(0.95,1)" font-size="21.4" letter-spacing="0" stroke="#231f20" stroke-width="0.55">0</text>
<text transform="translate(1242.00,697.30) scale(0.9,1)" font-size="27.7" stroke="#231f20" stroke-width="0.7">t</text>
<text transform="translate(1250.35,701.80) scale(0.95,1)" font-size="21.4" letter-spacing="0" stroke="#231f20" stroke-width="0.55">0</text>
<text transform="translate(337.50,697.30) scale(0.9,1)" font-size="27.7" stroke="#231f20" stroke-width="0.7">t</text>
<text transform="translate(346.30,701.80) scale(0.985,1)" font-size="21.4" letter-spacing="0.3" stroke="#231f20" stroke-width="0.55">9M</text>
<text transform="translate(692.00,697.30) scale(0.9,1)" font-size="27.7" stroke="#231f20" stroke-width="0.7">t</text>
<text transform="translate(700.80,701.80) scale(0.985,1)" font-size="21.4" letter-spacing="0.3" stroke="#231f20" stroke-width="0.55">9M</text>
<text transform="translate(1058.00,697.30) scale(0.9,1)" font-size="27.7" stroke="#231f20" stroke-width="0.7">t</text>
<text transform="translate(1066.80,701.80) scale(0.985,1)" font-size="21.4" letter-spacing="0.3" stroke="#231f20" stroke-width="0.55">9M</text>
<text transform="translate(1390.40,697.30) scale(0.9,1)" font-size="27.7" stroke="#231f20" stroke-width="0.7">t</text>
<text transform="translate(1399.20,701.80) scale(0.985,1)" font-size="21.4" letter-spacing="0.3" stroke="#231f20" stroke-width="0.55">9M</text>
<rect x="1488.60" y="46.80" width="15.30" height="14.90" fill="#d3d3d3"/>
<text transform="translate(1506.10,58.60) scale(1.0,1)" font-size="10.0" letter-spacing="0.52" stroke="#231f20" stroke-width="0.2">Other</text>
<rect x="1488.60" y="63.48" width="15.30" height="14.90" fill="#02453d"/>
<text transform="translate(1506.10,75.28) scale(1.0,1)" font-size="10.0" letter-spacing="0.52" stroke="#231f20" stroke-width="0.2">10556_D</text>
<rect x="1488.60" y="80.17" width="15.30" height="14.90" fill="#055a3c"/>
<text transform="translate(1506.10,91.97) scale(1.0,1)" font-size="10.0" letter-spacing="0.52" stroke="#231f20" stroke-width="0.2">14506_D</text>
<rect x="1488.60" y="96.85" width="15.30" height="14.90" fill="#0b6b3a"/>
<text transform="translate(1506.10,108.65) scale(1.0,1)" font-size="10.0" letter-spacing="0.52" stroke="#231f20" stroke-width="0.2">15825_D</text>
<rect x="1488.60" y="113.54" width="15.30" height="14.90" fill="#0b7f3c"/>
<text transform="translate(1506.10,125.34) scale(1.0,1)" font-size="10.0" letter-spacing="0.52" stroke="#231f20" stroke-width="0.2">205624_D</text>
<rect x="1488.60" y="130.22" width="15.30" height="14.90" fill="#0a9945"/>
<text transform="translate(1506.10,142.03) scale(1.0,1)" font-size="10.0" letter-spacing="0.52" stroke="#231f20" stroke-width="0.2">32578_D</text>
<rect x="1488.60" y="146.91" width="15.30" height="14.90" fill="#22a347"/>
<text transform="translate(1506.10,158.71) scale(1.0,1)" font-size="10.0" letter-spacing="0.52" stroke="#231f20" stroke-width="0.2">45776_D</text>
<rect x="1488.60" y="163.59" width="15.30" height="14.90" fill="#4aae49"/>
<text transform="translate(1506.10,175.39) scale(1.0,1)" font-size="10.0" letter-spacing="0.52" stroke="#231f20" stroke-width="0.2">70774_D</text>
<rect x="1488.60" y="180.28" width="15.30" height="14.90" fill="#69ba44"/>
<text transform="translate(1506.10,192.08) scale(1.0,1)" font-size="10.0" letter-spacing="0.52" stroke="#231f20" stroke-width="0.2">70775_D</text>
<rect x="1488.60" y="196.96" width="15.30" height="14.90" fill="#8ac43f"/>
<text transform="translate(1506.10,208.76) scale(1.0,1)" font-size="10.0" letter-spacing="0.52" stroke="#231f20" stroke-width="0.2">70776_D</text>
<rect x="1488.60" y="213.65" width="15.30" height="14.90" fill="#a3cc39"/>
<text transform="translate(1506.10,225.45) scale(1.0,1)" font-size="10.0" letter-spacing="0.52" stroke="#231f20" stroke-width="0.2">70777_D</text>
<rect x="1488.60" y="230.33" width="15.30" height="14.90" fill="#c1d72e"/>
<text transform="translate(1506.10,242.13) scale(1.0,1)" font-size="10.0" letter-spacing="0.52" stroke="#231f20" stroke-width="0.2">70778_D</text>
<rect x="1488.60" y="247.02" width="15.30" height="14.90" fill="#dbe024"/>
<text transform="translate(1506.10,258.82) scale(1.0,1)" font-size="10.0" letter-spacing="0.52" stroke="#231f20" stroke-width="0.2">70779_D</text>
<rect x="1488.60" y="263.70" width="15.30" height="14.90" fill="#f4e90f"/>
<text transform="translate(1506.10,275.50) scale(1.0,1)" font-size="10.0" letter-spacing="0.52" stroke="#231f20" stroke-width="0.2">70780_D</text>
<rect x="1488.60" y="280.39" width="15.30" height="14.90" fill="#f5cb17"/>
<text transform="translate(1506.10,292.19) scale(1.0,1)" font-size="10.0" letter-spacing="0.52" stroke="#231f20" stroke-width="0.2">D1</text>
<rect x="1488.60" y="297.07" width="15.30" height="14.90" fill="#f0a920"/>
<text transform="translate(1506.10,308.88) scale(1.0,1)" font-size="10.0" letter-spacing="0.52" stroke="#231f20" stroke-width="0.2">D1bs</text>
<rect x="1488.60" y="313.76" width="15.30" height="14.90" fill="#eb8920"/>
<text transform="translate(1506.10,325.56) scale(1.0,1)" font-size="10.0" letter-spacing="0.52" stroke="#231f20" stroke-width="0.2">D1bt</text>
<rect x="1488.60" y="330.44" width="15.30" height="14.90" fill="#ee7024"/>
<text transform="translate(1506.10,342.25) scale(1.0,1)" font-size="10.0" letter-spacing="0.52" stroke="#231f20" stroke-width="0.2">D1bu</text>
<rect x="1488.60" y="347.13" width="15.30" height="14.90" fill="#ee5a25"/>
<text transform="translate(1506.10,358.93) scale(1.0,1)" font-size="10.0" letter-spacing="0.52" stroke="#231f20" stroke-width="0.2">D1h</text>
<rect x="1488.60" y="363.81" width="15.30" height="14.90" fill="#ee4023"/>
<text transform="translate(1506.10,375.62) scale(1.0,1)" font-size="10.0" letter-spacing="0.52" stroke="#231f20" stroke-width="0.2">D1n</text>
<rect x="1488.60" y="380.50" width="15.30" height="14.90" fill="#ec2427"/>
<text transform="translate(1506.10,392.30) scale(1.0,1)" font-size="10.0" letter-spacing="0.52" stroke="#231f20" stroke-width="0.2">D2.2</text>
<rect x="1488.60" y="397.19" width="15.30" height="14.90" fill="#e81c26"/>
<text transform="translate(1506.10,408.99) scale(1.0,1)" font-size="10.0" letter-spacing="0.52" stroke="#231f20" stroke-width="0.2">D2c</text>
<rect x="1488.60" y="413.87" width="15.30" height="14.90" fill="#d92027"/>
<text transform="translate(1506.10,425.67) scale(1.0,1)" font-size="10.0" letter-spacing="0.52" stroke="#231f20" stroke-width="0.2">D4</text>
<rect x="1488.60" y="430.56" width="15.30" height="14.90" fill="#b32025"/>
<text transform="translate(1506.10,442.36) scale(1.0,1)" font-size="10.0" letter-spacing="0.52" stroke="#231f20" stroke-width="0.2">D4c</text>
<rect x="1488.60" y="447.24" width="15.30" height="14.90" fill="#921a1d"/>
<text transform="translate(1506.10,459.04) scale(1.0,1)" font-size="10.0" letter-spacing="0.52" stroke="#231f20" stroke-width="0.2">D4p</text>
<rect x="1488.60" y="463.92" width="15.30" height="14.90" fill="#750f11"/>
<text transform="translate(1506.10,475.72) scale(1.0,1)" font-size="10.0" letter-spacing="0.52" stroke="#231f20" stroke-width="0.2">D6</text>
<rect x="1488.60" y="480.61" width="15.30" height="14.90" fill="#4e1213"/>
<text transform="translate(1506.10,492.41) scale(1.0,1)" font-size="10.0" letter-spacing="0.52" stroke="#231f20" stroke-width="0.2">D6b</text>
<rect x="1560.20" y="46.80" width="15.00" height="14.90" fill="#c594c7"/>
<text transform="translate(1578.20,58.60) scale(1.0,1)" font-size="10.0" letter-spacing="0.52" stroke="#231f20" stroke-width="0.2">110_C</text>
<rect x="1560.20" y="63.68" width="15.00" height="14.90" fill="#a96bb0"/>
<text transform="translate(1578.20,75.48) scale(1.0,1)" font-size="10.0" letter-spacing="0.52" stroke="#231f20" stroke-width="0.2">114_C</text>
<rect x="1560.20" y="80.56" width="15.00" height="14.90" fill="#9b4d9f"/>
<text transform="translate(1578.20,92.36) scale(1.0,1)" font-size="10.0" letter-spacing="0.52" stroke="#231f20" stroke-width="0.2">130_C</text>
<rect x="1560.20" y="97.44" width="15.00" height="14.90" fill="#934a9f"/>
<text transform="translate(1578.20,109.24) scale(1.0,1)" font-size="10.0" letter-spacing="0.52" stroke="#231f20" stroke-width="0.2">21709_C</text>
<rect x="1560.20" y="114.32" width="15.00" height="14.90" fill="#8a4a9f"/>
<text transform="translate(1578.20,126.12) scale(1.0,1)" font-size="10.0" letter-spacing="0.52" stroke="#231f20" stroke-width="0.2">70785_C</text>
<rect x="1560.20" y="131.20" width="15.00" height="14.90" fill="#7c499d"/>
<text transform="translate(1578.20,143.00) scale(1.0,1)" font-size="10.0" letter-spacing="0.52" stroke="#231f20" stroke-width="0.2">C1</text>
<rect x="1560.20" y="148.08" width="15.00" height="14.90" fill="#6c469b"/>
<text transform="translate(1578.20,159.88) scale(1.0,1)" font-size="10.0" letter-spacing="0.52" stroke="#231f20" stroke-width="0.2">C115k</text>
<rect x="1560.20" y="164.96" width="15.00" height="14.90" fill="#5a3595"/>
<text transform="translate(1578.20,176.76) scale(1.0,1)" font-size="10.0" letter-spacing="0.52" stroke="#231f20" stroke-width="0.2">C15h</text>
<rect x="1560.20" y="181.84" width="15.00" height="14.90" fill="#47297f"/>
<text transform="translate(1578.20,193.64) scale(1.0,1)" font-size="10.0" letter-spacing="0.52" stroke="#231f20" stroke-width="0.2">C1au</text>
<rect x="1560.20" y="198.72" width="15.00" height="14.90" fill="#3a2a80"/>
<text transform="translate(1578.20,210.52) scale(1.0,1)" font-size="10.0" letter-spacing="0.52" stroke="#231f20" stroke-width="0.2">C1b</text>
<rect x="1560.20" y="215.60" width="15.00" height="14.90" fill="#2c2a74"/>
<text transform="translate(1578.20,227.40) scale(1.0,1)" font-size="10.0" letter-spacing="0.52" stroke="#231f20" stroke-width="0.2">C1bi</text>
<rect x="1560.20" y="232.48" width="15.00" height="14.90" fill="#2a2d73"/>
<text transform="translate(1578.20,244.28) scale(1.0,1)" font-size="10.0" letter-spacing="0.52" stroke="#231f20" stroke-width="0.2">C1bl</text>
<rect x="1560.20" y="249.36" width="15.00" height="14.90" fill="#213a78"/>
<text transform="translate(1578.20,261.16) scale(1.0,1)" font-size="10.0" letter-spacing="0.52" stroke="#231f20" stroke-width="0.2">C1cc</text>
<rect x="1560.20" y="266.24" width="15.00" height="14.90" fill="#174783"/>
<text transform="translate(1578.20,278.04) scale(1.0,1)" font-size="10.0" letter-spacing="0.52" stroke="#231f20" stroke-width="0.2">C1d</text>
<rect x="1560.20" y="283.12" width="15.00" height="14.90" fill="#065a9a"/>
<text transform="translate(1578.20,294.92) scale(1.0,1)" font-size="10.0" letter-spacing="0.52" stroke="#231f20" stroke-width="0.2">C1k</text>
<rect x="1560.20" y="300.00" width="15.00" height="14.90" fill="#0e69b0"/>
<text transform="translate(1578.20,311.80) scale(1.0,1)" font-size="10.0" letter-spacing="0.52" stroke="#231f20" stroke-width="0.2">C3</text>
<rect x="1560.20" y="316.88" width="15.00" height="14.90" fill="#157dc1"/>
<text transform="translate(1578.20,328.68) scale(1.0,1)" font-size="10.0" letter-spacing="0.52" stroke="#231f20" stroke-width="0.2">C3.12</text>
<rect x="1560.20" y="333.76" width="15.00" height="14.90" fill="#1096d6"/>
<text transform="translate(1578.20,345.56) scale(1.0,1)" font-size="10.0" letter-spacing="0.52" stroke="#231f20" stroke-width="0.2">C3cg</text>
<rect x="1560.20" y="350.64" width="15.00" height="14.90" fill="#1aa7e4"/>
<text transform="translate(1578.20,362.44) scale(1.0,1)" font-size="10.0" letter-spacing="0.52" stroke="#231f20" stroke-width="0.2">C3cw</text>
<rect x="1560.20" y="367.52" width="15.00" height="14.90" fill="#31c0ef"/>
<text transform="translate(1578.20,379.32) scale(1.0,1)" font-size="10.0" letter-spacing="0.52" stroke="#231f20" stroke-width="0.2">C42.2</text>
<rect x="1488.60" y="532.90" width="15.30" height="14.90" fill="#8c3f9c"/>
<text transform="translate(1505.90,544.30) scale(1.0,1)" font-size="10.0" letter-spacing="0.52" stroke="#231f20" stroke-width="0.2">C15h-C116s-C15dp</text>
<rect x="1488.60" y="549.45" width="15.30" height="14.90" fill="#6f4098"/>
<text transform="translate(1505.90,560.72) scale(1.0,1)" font-size="10.0" letter-spacing="0.52" stroke="#231f20" stroke-width="0.2">C1d-C42.2-C1-C1k-C1b</text>
<rect x="1488.60" y="566.00" width="15.30" height="14.90" fill="#503e98"/>
<text transform="translate(1505.90,577.14) scale(1.0,1)" font-size="10.0" letter-spacing="0.52" stroke="#231f20" stroke-width="0.2">C1d/C1-C42.2-C3cg-C1b-C3</text>
<rect x="1488.60" y="582.55" width="15.30" height="14.90" fill="#3f52a2"/>
<text transform="translate(1505.90,593.56) scale(1.0,1)" font-size="10.0" letter-spacing="0.52" stroke="#231f20" stroke-width="0.2">C1d/C1/C42.2-C1b-C3cg-C45c-C115k-C1au-C3-C41p</text>
<rect x="1488.60" y="599.10" width="15.30" height="14.90" fill="#4066b0"/>
<text transform="translate(1505.90,609.98) scale(1.0,1)" font-size="10.0" letter-spacing="0.52" stroke="#231f20" stroke-width="0.2">C1d/C1/C42.2/C3cg-C1b-C3cw-C45c-C115k-C1au</text>
<rect x="1488.60" y="615.65" width="15.30" height="14.90" fill="#4f8bca"/>
<text transform="translate(1505.90,626.40) scale(1.0,1)" font-size="10.0" letter-spacing="0.52" stroke="#231f20" stroke-width="0.2">C1d/C42.2-C1bl-C1-C3cg-C1b</text>
<rect x="1488.60" y="632.20" width="15.30" height="14.90" fill="#5dccf0"/>
<text transform="translate(1505.90,642.82) scale(1.0,1)" font-size="10.0" letter-spacing="0.52" stroke="#231f20" stroke-width="0.2">C1d/C42.2/C1</text>
<rect x="1488.60" y="648.75" width="15.30" height="14.90" fill="#fdc414"/>
<text transform="translate(1505.90,659.24) scale(1.0,1)" font-size="10.0" letter-spacing="0.52" stroke="#231f20" stroke-width="0.2">D1bt-D6-D1-D4-D1bs</text>
<rect x="1488.60" y="665.30" width="15.30" height="14.90" fill="#de2a28"/>
<text transform="translate(1505.90,675.66) scale(1.0,1)" font-size="10.0" letter-spacing="0.52" stroke="#231f20" stroke-width="0.2">D4-D1-D6-D1bu-D2.2-D1h</text>
</svg>
</body></html>
